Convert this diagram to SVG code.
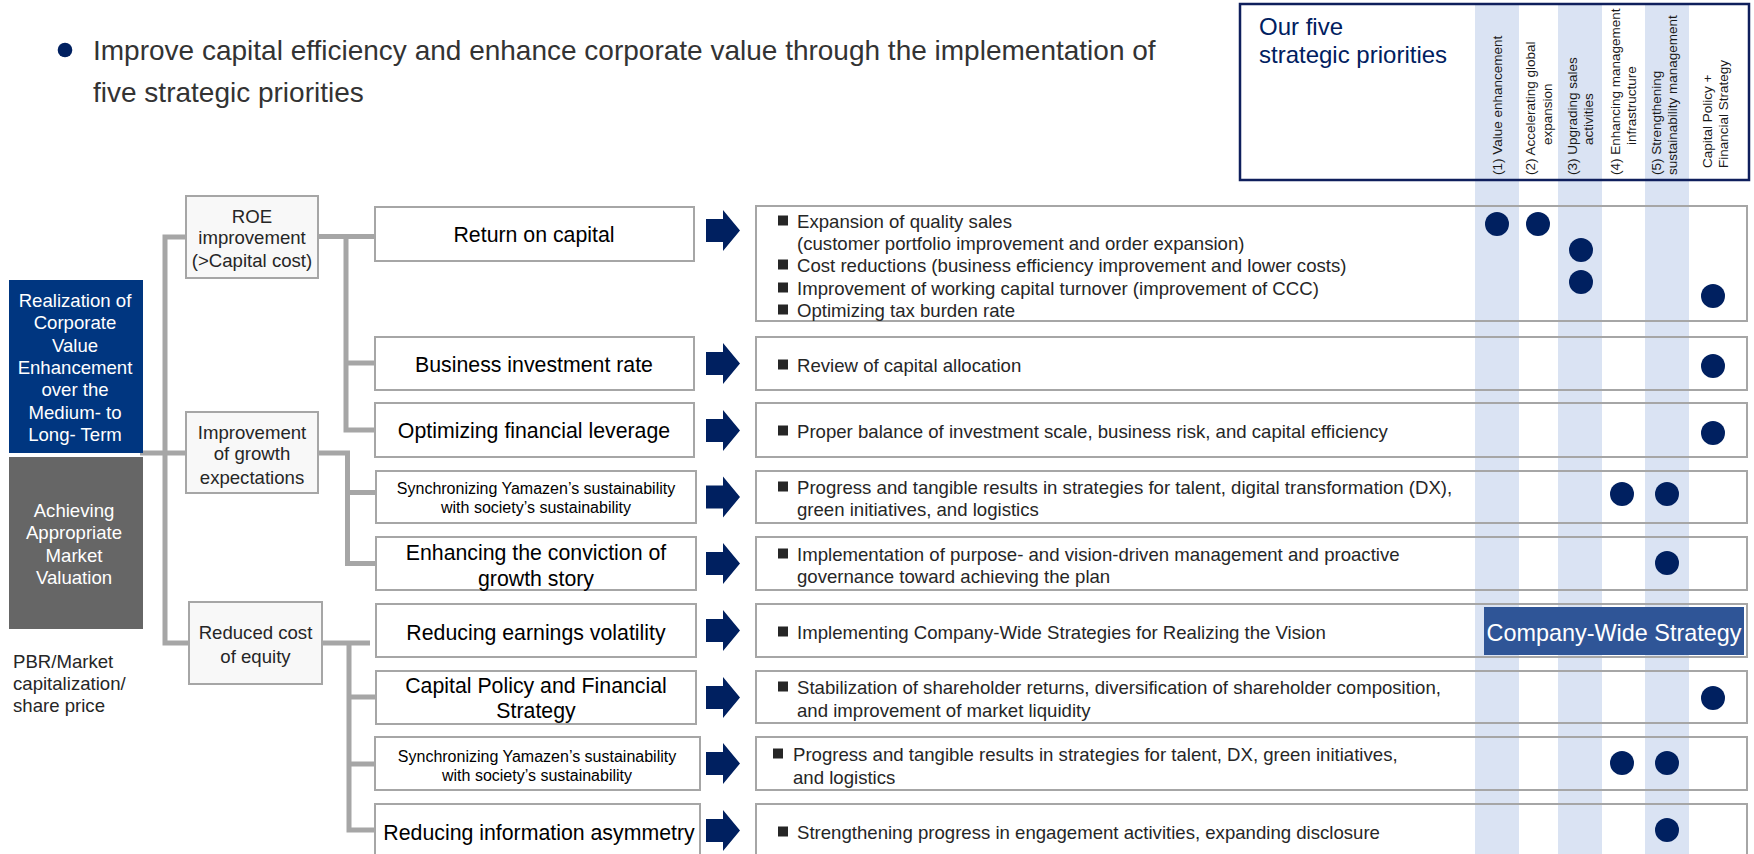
<svg xmlns="http://www.w3.org/2000/svg" xmlns:xlink="http://www.w3.org/1999/xlink" width="1754" height="854" viewBox="0 0 1754 854">
<style>
text{font-family:"Liberation Sans",Arial,sans-serif}
.col{fill:#DAE3F3}
.lbl{font-size:13.5px;fill:#1a1a1a}
.lbox{fill:#F8F8F8;stroke:#A6A6A6;stroke-width:2}
.mbox{fill:#FFFFFF;stroke:#A6A6A6;stroke-width:2}
.dbox{fill:none;stroke:#A6A6A6;stroke-width:2}
.conn{fill:none;stroke:#A6A6A6;stroke-width:5}
.lt{font-size:18.6px;fill:#262626;text-anchor:middle}
.wt{font-size:18.6px;fill:#FFFFFF;text-anchor:middle}
.mt{font-size:21.3px;fill:#000000;text-anchor:middle}
.st{font-size:16px;fill:#000000;text-anchor:middle}
.dt{font-size:18.6px;fill:#262626}
.bul{fill:#262626}
.dot{fill:#002060}
</style>
<defs>
<path id="arr" d="M0,-11.5 H17 V-20.5 L34,0 L17,20.5 V11.5 H0 Z" fill="#002060"/>
</defs>
<rect width="1754" height="854" fill="#FFFFFF"/>

<!-- header -->
<g id="title">
<circle cx="65" cy="50" r="7.3" fill="#002060"/>
<text x="93" y="59.5" font-size="28" fill="#333333">Improve capital efficiency and enhance corporate value through the implementation of</text>
<text x="93" y="101.5" font-size="28" fill="#333333">five strategic priorities</text>
</g>

<!-- priority columns -->
<g id="columns">
<rect class="col" x="1475" y="4" width="44" height="850"/>
<rect class="col" x="1558" y="4" width="44" height="850"/>
<rect class="col" x="1645" y="4" width="44" height="850"/>
</g>

<g id="priorities-header">
<rect x="1240" y="4" width="509" height="176" fill="none" stroke="#0F1F5C" stroke-width="2.5"/>
<text x="1259" y="35" font-size="24" fill="#002060">Our five</text>
<text x="1259" y="63" font-size="24" fill="#002060">strategic priorities</text>
<text class="lbl" transform="translate(1501.5,175) rotate(-90)">(1) Value enhancement</text>
<text class="lbl" transform="translate(1535,175) rotate(-90)">(2) Accelerating global</text>
<text class="lbl" transform="translate(1551.5,145) rotate(-90)">expansion</text>
<text class="lbl" transform="translate(1577,175) rotate(-90)">(3) Upgrading sales</text>
<text class="lbl" transform="translate(1593,145) rotate(-90)">activities</text>
<text class="lbl" transform="translate(1620,175) rotate(-90)">(4) Enhancing management</text>
<text class="lbl" transform="translate(1635.5,145) rotate(-90)">infrastructure</text>
<text class="lbl" transform="translate(1660.5,175) rotate(-90)">(5) Strengthening</text>
<text class="lbl" transform="translate(1676.5,175) rotate(-90)">sustainability management</text>
<text class="lbl" transform="translate(1712,168) rotate(-90)">Capital Policy +</text>
<text class="lbl" transform="translate(1727.5,168) rotate(-90)">Financial Strategy</text>
</g>

<!-- connectors -->
<g id="connectors">
<path class="conn" d="M140,453 H186"/>
<path class="conn" d="M186,237 H165 V643 H189"/>
<path class="conn" d="M318,236.5 H375 M346,236.5 V430 H375 M346,363 H375"/>
<path class="conn" d="M318,453 H347.5 V563.5 H376 M347.5,492.5 H376"/>
<path class="conn" d="M322,643 H370 M349,643 V830 H375 M349,697 H376 M349,764 H375"/>
<use xlink:href="#arr" x="706" y="230.5"/>
<use xlink:href="#arr" x="706" y="363.5"/>
<use xlink:href="#arr" x="706" y="430.5"/>
<use xlink:href="#arr" x="706" y="497"/>
<use xlink:href="#arr" x="706" y="563.5"/>
<use xlink:href="#arr" x="706" y="630.5"/>
<use xlink:href="#arr" x="706" y="697.5"/>
<use xlink:href="#arr" x="706" y="763.5"/>
<use xlink:href="#arr" x="706" y="830.5"/>
</g>

<!-- left nodes -->
<g id="corporate-value">
<rect x="9" y="280" width="134" height="173" fill="#003680"/>
<text class="wt" x="75" y="307">Realization of</text>
<text class="wt" x="75" y="329">Corporate</text>
<text class="wt" x="75" y="352">Value</text>
<text class="wt" x="75" y="374">Enhancement</text>
<text class="wt" x="75" y="396">over the</text>
<text class="wt" x="75" y="419">Medium- to</text>
<text class="wt" x="75" y="441">Long- Term</text>
</g>
<g id="market-valuation">
<rect x="9" y="457" width="134" height="172" fill="#666666"/>
<text class="wt" x="74" y="517">Achieving</text>
<text class="wt" x="74" y="539">Appropriate</text>
<text class="wt" x="74" y="562">Market</text>
<text class="wt" x="74" y="584">Valuation</text>
</g>
<g id="pbr-label">
<text class="dt" x="13" y="667.5" fill="#000">PBR/Market</text>
<text class="dt" x="13" y="689.5" fill="#000">capitalization/</text>
<text class="dt" x="13" y="711.5" fill="#000">share price</text>
</g>
<g id="roe">
<rect class="lbox" x="186" y="196" width="132" height="82"/>
<text class="lt" x="252" y="222.5">ROE</text>
<text class="lt" x="252" y="244">improvement</text>
<text class="lt" x="252" y="266.5">(&gt;Capital cost)</text>
</g>
<g id="growth">
<rect class="lbox" x="186" y="412" width="132" height="81"/>
<text class="lt" x="252" y="438.5">Improvement</text>
<text class="lt" x="252" y="460">of growth</text>
<text class="lt" x="252" y="483.5">expectations</text>
</g>
<g id="cost-equity">
<rect class="lbox" x="189" y="602" width="133" height="82"/>
<text class="lt" x="255.5" y="638.5">Reduced cost</text>
<text class="lt" x="255.5" y="662.5">of equity</text>
</g>

<!-- middle nodes -->
<g id="m1"><rect class="mbox" x="375" y="207" width="319" height="54"/><text class="mt" x="534" y="241.5">Return on capital</text></g>
<g id="m2"><rect class="mbox" x="375" y="337" width="319" height="53"/><text class="mt" x="534" y="371.5">Business investment rate</text></g>
<g id="m3"><rect class="mbox" x="375" y="403" width="319" height="54"/><text class="mt" x="534" y="437.5">Optimizing financial leverage</text></g>
<g id="m4"><rect class="mbox" x="376" y="471" width="320" height="52"/><text class="st" x="536" y="493.8">Synchronizing Yamazen’s sustainability</text><text class="st" x="536" y="513.3">with society’s sustainability</text></g>
<g id="m5"><rect class="mbox" x="376" y="537" width="320" height="53"/><text class="mt" x="536" y="559.5">Enhancing the conviction of</text><text class="mt" x="536" y="585.5">growth story</text></g>
<g id="m6"><rect class="mbox" x="376" y="604" width="320" height="53"/><text class="mt" x="536" y="639.5">Reducing earnings volatility</text></g>
<g id="m7"><rect class="mbox" x="376" y="671" width="320" height="53"/><text class="mt" x="536" y="692.5">Capital Policy and Financial</text><text class="mt" x="536" y="717.5">Strategy</text></g>
<g id="m8"><rect class="mbox" x="375" y="737" width="325" height="53"/><text class="st" x="537" y="761.6">Synchronizing Yamazen’s sustainability</text><text class="st" x="537" y="780.6">with society’s sustainability</text></g>
<g id="m9"><rect class="mbox" x="375" y="804" width="325" height="70"/><text class="mt" x="539" y="839.5">Reducing information asymmetry</text></g>

<!-- detail nodes -->
<g id="d1">
<rect class="dbox" x="756" y="206" width="991" height="115"/>
<rect class="bul" x="778" y="215.5" width="10" height="10"/>
<text class="dt" x="797" y="227.5">Expansion of quality sales</text>
<text class="dt" x="797" y="249.5">(customer portfolio improvement and order expansion)</text>
<rect class="bul" x="778" y="259.5" width="10" height="10"/>
<text class="dt" x="797" y="271.5">Cost reductions (business efficiency improvement and lower costs)</text>
<rect class="bul" x="778" y="282.5" width="10" height="10"/>
<text class="dt" x="797" y="294.5">Improvement of working capital turnover (improvement of CCC)</text>
<rect class="bul" x="778" y="304.5" width="10" height="10"/>
<text class="dt" x="797" y="316.5">Optimizing tax burden rate</text>
<circle class="dot" cx="1497" cy="224" r="12"/>
<circle class="dot" cx="1538" cy="224" r="12"/>
<circle class="dot" cx="1581" cy="250" r="12"/>
<circle class="dot" cx="1581" cy="282" r="12"/>
<circle class="dot" cx="1713" cy="296" r="12"/>
</g>
<g id="d2">
<rect class="dbox" x="756" y="337" width="991" height="53"/>
<rect class="bul" x="778" y="359.5" width="10" height="10"/>
<text class="dt" x="797" y="371.5">Review of capital allocation</text>
<circle class="dot" cx="1713" cy="366" r="12"/>
</g>
<g id="d3">
<rect class="dbox" x="756" y="403" width="991" height="54"/>
<rect class="bul" x="778" y="425.5" width="10" height="10"/>
<text class="dt" x="797" y="437.5">Proper balance of investment scale, business risk, and capital efficiency</text>
<circle class="dot" cx="1713" cy="433" r="12"/>
</g>
<g id="d4">
<rect class="dbox" x="756" y="471" width="991" height="52"/>
<rect class="bul" x="778" y="481.5" width="10" height="10"/>
<text class="dt" x="797" y="493.5">Progress and tangible results in strategies for talent, digital transformation (DX),</text>
<text class="dt" x="797" y="515.5">green initiatives, and logistics</text>
<circle class="dot" cx="1622" cy="494" r="12"/>
<circle class="dot" cx="1667" cy="494" r="12"/>
</g>
<g id="d5">
<rect class="dbox" x="756" y="537" width="991" height="53"/>
<rect class="bul" x="778" y="548.5" width="10" height="10"/>
<text class="dt" x="797" y="560.5">Implementation of purpose- and vision-driven management and proactive</text>
<text class="dt" x="797" y="582.5">governance toward achieving the plan</text>
<circle class="dot" cx="1667" cy="563" r="12"/>
</g>
<g id="d6">
<rect class="dbox" x="756" y="604" width="991" height="53"/>
<rect class="bul" x="778" y="626.5" width="10" height="10"/>
<text class="dt" x="797" y="638.5">Implementing Company-Wide Strategies for Realizing the Vision</text>
<rect x="1484" y="607" width="260" height="48" fill="#2F5597"/>
<text x="1614" y="640.5" font-size="23.4" fill="#FFFFFF" text-anchor="middle">Company-Wide Strategy</text>
</g>
<g id="d7">
<rect class="dbox" x="756" y="671" width="991" height="52"/>
<rect class="bul" x="778" y="681.5" width="10" height="10"/>
<text class="dt" x="797" y="693.5">Stabilization of shareholder returns, diversification of shareholder composition,</text>
<text class="dt" x="797" y="716.5">and improvement of market liquidity</text>
<circle class="dot" cx="1713" cy="698" r="12"/>
</g>
<g id="d8">
<rect class="dbox" x="756" y="737" width="991" height="53"/>
<rect class="bul" x="773" y="748.5" width="10" height="10"/>
<text class="dt" x="793" y="760.5">Progress and tangible results in strategies for talent, DX, green initiatives,</text>
<text class="dt" x="793" y="783.5">and logistics</text>
<circle class="dot" cx="1622" cy="763" r="12"/>
<circle class="dot" cx="1667" cy="763" r="12"/>
</g>
<g id="d9">
<rect class="dbox" x="756" y="804" width="991" height="70"/>
<rect class="bul" x="778" y="826.5" width="10" height="10"/>
<text class="dt" x="797" y="838.5">Strengthening progress in engagement activities, expanding disclosure</text>
<circle class="dot" cx="1667" cy="830" r="12"/>
</g>
</svg>
